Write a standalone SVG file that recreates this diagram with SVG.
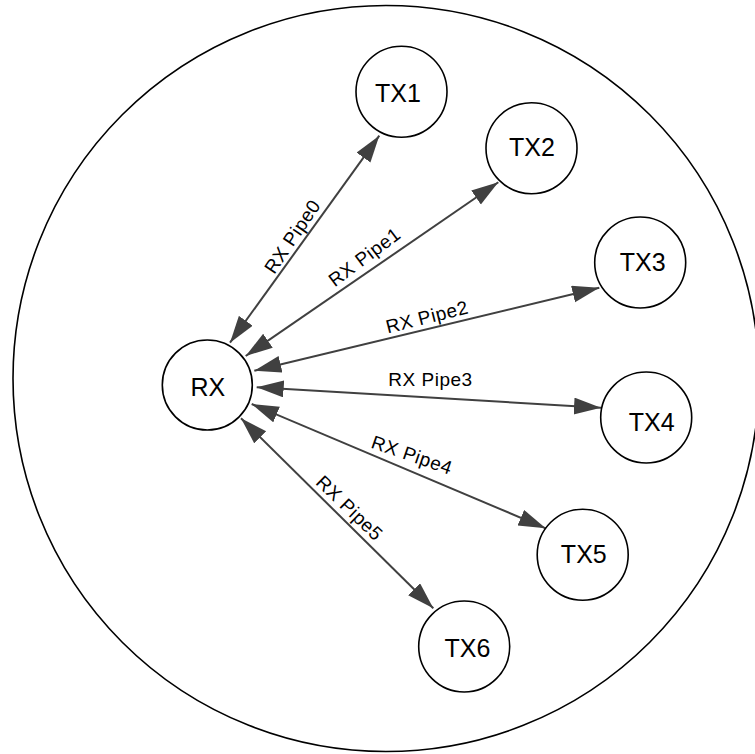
<svg xmlns="http://www.w3.org/2000/svg" width="755" height="754" viewBox="0 0 755 754">
<style>
.node{fill:#fff;stroke:#000;stroke-width:1.6}
.nl{font-family:"Liberation Sans",Arial,sans-serif;font-size:25px;fill:#000;text-anchor:middle}
.edge{stroke:#404040;stroke-width:2;fill:none;marker-start:url(#ah);marker-end:url(#ah)}
.el{font-family:"Liberation Sans",Arial,sans-serif;font-size:19px;letter-spacing:0.5px;fill:#000;text-anchor:middle}
</style>
<defs>
<marker id="ah" markerUnits="userSpaceOnUse" markerWidth="28" markerHeight="18" refX="27" refY="8.5" orient="auto-start-reverse">
<path d="M0,0 L27,8.5 L0,17 z" fill="#404040"/>
</marker>
</defs>
<rect width="755" height="754" fill="#fff"/>
<g id="boundary"><circle cx="386" cy="378.5" r="373" fill="none" stroke="#000" stroke-width="1.6"/></g>
<g id="connectors">
<line class="edge" x1="230" y1="342.7" x2="379.3" y2="135.7"/>
<line class="edge" x1="245.7" y1="356" x2="498.3" y2="182.3"/>
<line class="edge" x1="254.3" y1="370.7" x2="599.3" y2="287.7"/>
<line class="edge" x1="256.7" y1="387.3" x2="601" y2="407.7"/>
<line class="edge" x1="251.7" y1="404" x2="545.7" y2="528.3"/>
<line class="edge" x1="241" y1="418.3" x2="433.3" y2="608.3"/>
<g transform="translate(292.5,236.5) rotate(-56)"><text class="el" y="6.5">RX Pipe0</text></g>
<g transform="translate(364.5,257) rotate(-37)"><text class="el" y="6.5">RX Pipe1</text></g>
<g transform="translate(427,317) rotate(-14)"><text class="el" y="6.5">RX Pipe2</text></g>
<g transform="translate(430.5,379.5)"><text class="el" y="6.5">RX Pipe3</text></g>
<g transform="translate(412,455) rotate(19)"><text class="el" y="6.5">RX Pipe4</text></g>
<g transform="translate(349.5,508) rotate(44)"><text class="el" y="6.5">RX Pipe5</text></g>
</g>
<g id="RX"><circle class="node" cx="207.3" cy="385" r="45"/><text class="nl" x="207.8" y="396">RX</text></g>
<g id="TX1"><circle class="node" cx="401.5" cy="91.7" r="45.5"/><text class="nl" x="398" y="101.7">TX1</text></g>
<g id="TX2"><circle class="node" cx="531.5" cy="148.2" r="45.5"/><text class="nl" x="532" y="155.7">TX2</text></g>
<g id="TX3"><circle class="node" cx="640.2" cy="262.5" r="45.5"/><text class="nl" x="642.7" y="271">TX3</text></g>
<g id="TX4"><circle class="node" cx="646.2" cy="417.5" r="45.5"/><text class="nl" x="651.7" y="430.7">TX4</text></g>
<g id="TX5"><circle class="node" cx="582.7" cy="554.7" r="45.5"/><text class="nl" x="583.8" y="563.3">TX5</text></g>
<g id="TX6"><circle class="node" cx="464.2" cy="646.5" r="45.5"/><text class="nl" x="467.5" y="656.7">TX6</text></g>
</svg>
